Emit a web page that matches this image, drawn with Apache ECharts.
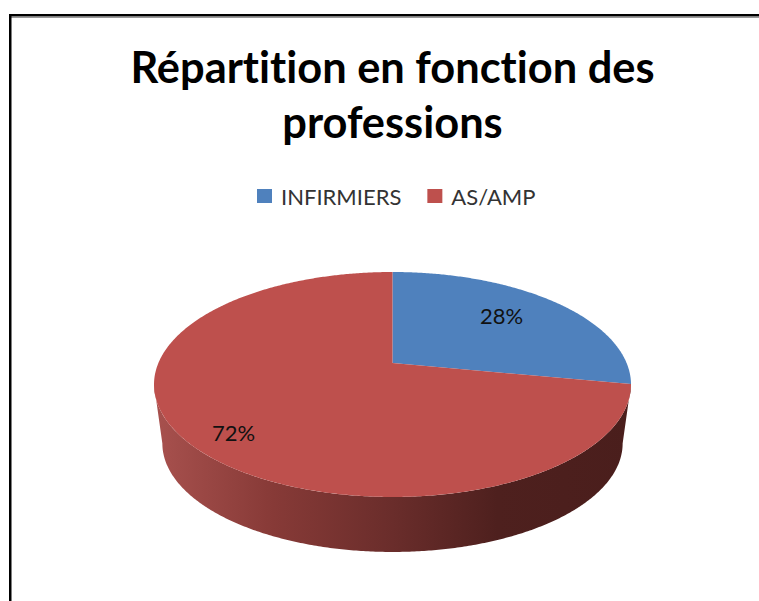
<!DOCTYPE html>
<html>
<head>
<meta charset="utf-8">
<title>Répartition en fonction des professions</title>
<script src="https://cdn.jsdelivr.net/npm/echarts@6/dist/echarts.min.js"></script>
<style>
    html, body { margin: 0; padding: 0; background: #fff; }
    #chart { width: 759px; height: 601px; }
    /* the original has no "ti" ligature */
    #chart svg text { font-variant-ligatures: none !important; }
</style>
</head>
<body>
<div id="chart"></div>
<script>
const titleText = 'Répartition en fonction des\nprofessions';
const categories = ['INFIRMIERS', 'AS/AMP'];
const shares = [28, 72];
const colors = ['#4F81BD', '#BE504D'];
const labelRadius = [0.75, 0.85];
const labelNudge = [[-15, -0.5], [12, 3.5]];

// tilted disc: apex of the pie sits above the centre of the ellipse (perspective)
const apex = { x: 392.5, y: 363 };
const discW = 234.1;
const discH = 108.4;
const persp = 0.191;
const depth = 58.9;
const shrink = 0.965;
const faceCy = 384.5;

const total = shares.reduce((a, b) => a + b, 0);
const chart = echarts.init(document.getElementById('chart'), null, { renderer: 'svg' });

// angle in degrees, clockwise from the top; r from 0 to 1
function project(deg, r) {
    const a = deg * Math.PI / 180;
    const s = Math.sin(a) * r;
    const c = Math.cos(a) * r;
    const d = 1 + persp * c;
    return [apex.x + discW * s / d, apex.y - discH * c / d];
}

function lower(p) {
    return [apex.x + (p[0] - apex.x) * shrink, faceCy + depth + (p[1] - faceCy) * shrink];
}

function arc(from, to) {
    const pts = [];
    const n = Math.max(2, Math.ceil((to - from) * 2));
    for (let i = 0; i <= n; i++) {
        pts.push(project(from + (to - from) * i / n, 1));
    }
    return pts;
}

// the rim is only visible between the two side extremes of the ellipse
const rimFrom = Math.acos(-persp) * 180 / Math.PI;
const rimTo = 360 - rimFrom;
const wallFill = new echarts.graphic.LinearGradient(0, 0, 1, 0, [
    { offset: 0, color: '#A8514E' },
    { offset: 0.25, color: '#873A37' },
    { offset: 0.5, color: '#6A2D2B' },
    { offset: 0.72, color: '#4E201E' },
    { offset: 1, color: '#4A1E1C' }
]);

function renderSlice(idx, params, api) {
    const from = shares.slice(0, idx).reduce((a, b) => a + b, 0) / total * 360;
    const to = from + api.value(0) / total * 360;
    const children = [];

    const wFrom = Math.max(from, rimFrom);
    const wTo = Math.min(to, rimTo);
    if (wTo > wFrom) {
        const top = arc(wFrom, wTo);
        children.push({
            type: 'polygon',
            shape: { points: top.concat(top.map(lower).reverse()) },
            style: { fill: wallFill }
        });
    }

    children.push({
        type: 'polygon',
        shape: { points: [[apex.x, apex.y]].concat(arc(from, to)) },
        style: { fill: colors[idx] }
    });

    const mid = project((from + to) / 2, labelRadius[idx]);
    children.push({
        type: 'text',
        style: {
            x: mid[0] + labelNudge[idx][0],
            y: mid[1] + labelNudge[idx][1],
            text: api.value(0) + '%',
            fill: '#111',
            fontFamily: 'Lato',
            fontSize: 22,
            align: 'center',
            verticalAlign: 'middle'
        }
    });
    return { type: 'group', children };
}

chart.setOption({
    animation: false,
    backgroundColor: '#fff',
    title: {
        text: titleText,
        left: 392.5,
        top: 38,
        padding: 0,
        textAlign: 'center',
        textStyle: {
            fontFamily: 'Lato',
            fontWeight: 'bold',
            fontSize: 43.4,
            lineHeight: 55,
            color: '#000'
        }
    },
    legend: {
        data: categories,
        left: 257,
        top: 185,
        padding: 0,
        icon: 'rect',
        itemWidth: 15,
        itemHeight: 14,
        itemGap: 26,
        selectedMode: false,
        textStyle: {
            fontFamily: 'Lato',
            fontSize: 22,
            color: '#333',
            padding: [0, 0, 0, 4]
        }
    },
    graphic: [
        { type: 'rect', silent: true, shape: { x: 9, y: 14, width: 750, height: 2.5 }, style: { fill: '#000' } },
        { type: 'rect', silent: true, shape: { x: 11, y: 17, width: 748, height: 1 }, style: { fill: '#999' } },
        { type: 'rect', silent: true, shape: { x: 9, y: 14, width: 2.5, height: 587 }, style: { fill: '#000' } }
    ],
    series: categories.map((name, idx) => ({
        type: 'custom',
        name,
        coordinateSystem: 'none',
        silent: true,
        itemStyle: { color: colors[idx] },
        renderItem: (params, api) => renderSlice(idx, params, api),
        data: [shares[idx]]
    }))
});

window.addEventListener('resize', () => chart.resize());
</script>
</body>
</html>
